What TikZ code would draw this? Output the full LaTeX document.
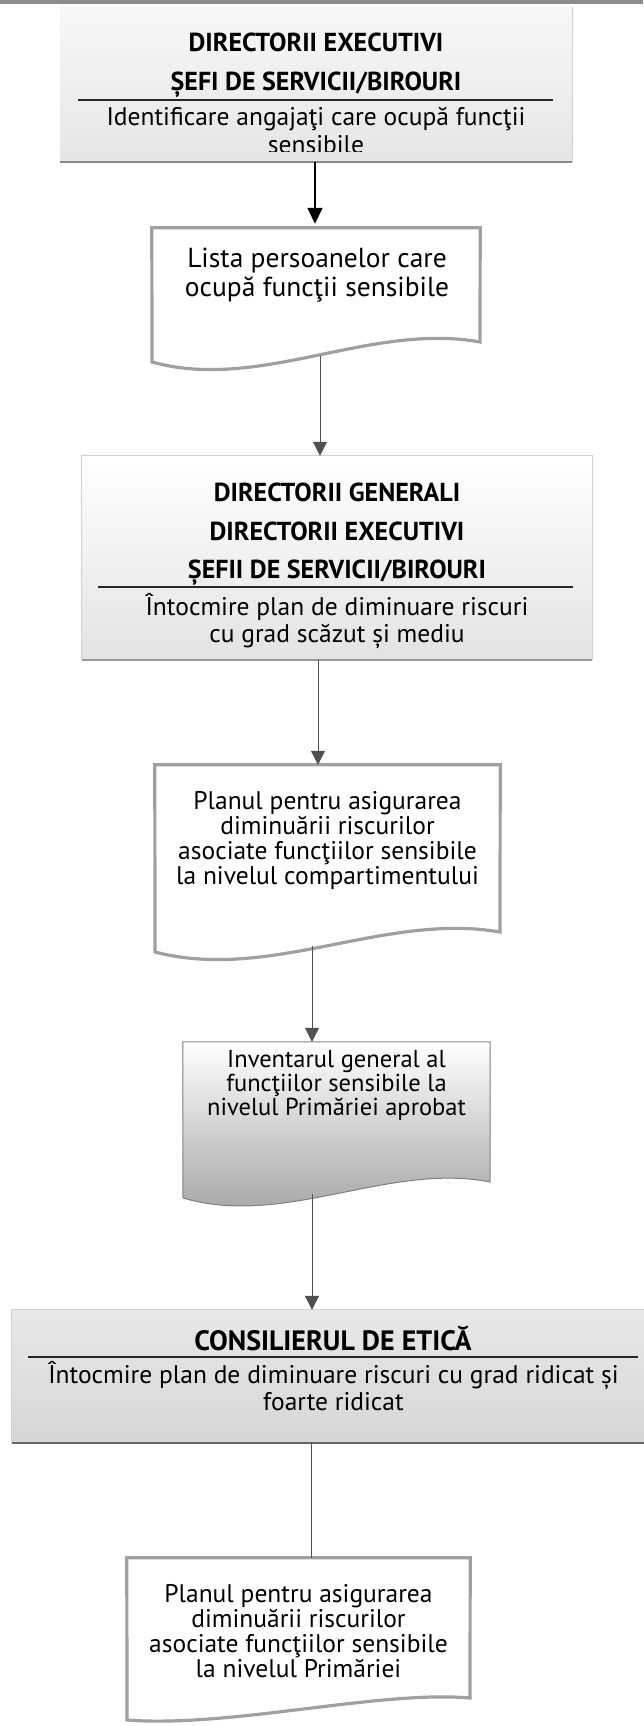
\documentclass[tikz,border=0pt]{standalone}
\usepackage{fontspec}
\setmainfont{PT Sans}
\usetikzlibrary{arrows.meta}
\definecolor{band}{HTML}{8C8C8C}
\definecolor{docgray}{HTML}{A0A0A0}
\definecolor{shadowgray}{HTML}{8A8A8A}
\definecolor{edgegray}{HTML}{D0D0D0}
\definecolor{arrowgray}{HTML}{505050}
\newcommand\mysetfs[2]{\fontsize{#1}{#2}\selectfont}
\tikzset{
  area/.style={draw=none,inner sep=0pt},
  bodytxt/.style={align=center,inner sep=0pt},
  titletxt/.style={align=center,inner sep=0pt},
  docline/.style={draw=docgray,line width=3.2pt,line join=miter},
  rulerline/.style={draw=black!85,line width=1.3pt},
  shadowline/.style={draw=shadowgray,line width=2pt},
  boldarrow/.style={draw=black,line width=1.6pt,-{Triangle[width=15pt,length=16pt]}},
  thinarrow/.style={draw=arrowgray,line width=1pt,-{Triangle[width=14pt,length=14pt]}},
  plainline/.style={draw=arrowgray,line width=1pt}
}
\begin{document}
\begin{tikzpicture}[x=1pt,y=-1pt]
\useasboundingbox (0,0) rectangle (643,1726);
\fill[white] (0,0) rectangle (643,1726);
\fill[band] (0,0) rectangle (643,4);

% ---------- box 1
\node[area,minimum width=512pt,minimum height=155pt] (b1) at (316,84.5) {};
\shade[top color=black!3,bottom color=black!10] (b1.north west) rectangle (b1.south east);
\draw[edgegray,line width=0.8pt] (b1.north east) -- (b1.south east);
\draw[shadowline] (b1.south west) -- (b1.south east);
\node[titletxt,font=\mysetfs{26pt}{39pt}\bfseries] (t1a) at (316,65) {DIRECTORII EXECUTIVI\\ȘEFI DE SERVICII/BIROURI};
\draw[rulerline] (78,100) -- (553,100);
\begin{scope}
\clip (60,7) rectangle (572,151);
\node[bodytxt,font=\mysetfs{25.5pt}{28pt}] (t1b) at (316,130.5) {Identificare angajaţi care ocupă funcţii\\sensibile};
\end{scope}

% ---------- box 2 (document)
\node[area,minimum width=328pt,minimum height=128pt] (b2) at (316,292) {};
\draw[docline,fill=white] (152,362) -- (b2.north west) -- (b2.north east) -- (480,342)
  .. controls (370,322) and (260,392) .. (152,362) -- cycle;
\node[bodytxt,font=\mysetfs{27.5pt}{28.5pt}] (t2) at (317,275) {Lista persoanelor care\\ocupă funcţii sensibile};

% ---------- box 3
\node[area,minimum width=510pt,minimum height=204pt] (b3) at (337,558) {};
\shade[top color=white,bottom color=black!11] (b3.north west) rectangle (b3.south east);
\draw[edgegray,line width=0.8pt] (b3.south west) -- (b3.north west) -- (b3.north east) -- (b3.south east);
\draw[draw=black!40,line width=1.6pt] (b3.south west) -- (b3.south east);
\node[titletxt,font=\mysetfs{26pt}{38.5pt}\bfseries] (t3a) at (337,534.5) {DIRECTORII GENERALI\\DIRECTORII EXECUTIVI\\ȘEFII DE SERVICII/BIROURI};
\draw[rulerline] (98,587) -- (573,587);
\node[bodytxt,font=\mysetfs{25.5pt}{26.5pt}] (t3b) at (337,621) {Întocmire plan de diminuare riscuri\\cu grad scăzut și mediu};

% ---------- box 4 (document)
\node[area,minimum width=345pt,minimum height=181pt] (b4) at (327.5,855.5) {};
\draw[docline,fill=white] (155,952) -- (b4.north west) -- (b4.north east) -- (500,932)
  .. controls (385,912) and (270,982) .. (155,952) -- cycle;
\node[bodytxt,font=\mysetfs{25.5pt}{25pt}] (t4) at (327.5,840.5) {Planul pentru asigurarea\\diminuării riscurilor\\asociate funcţiilor sensibile\\la nivelul compartimentului};

% ---------- box 5 (document, shaded)
\node[area,minimum width=307pt,minimum height=152pt] (b5) at (336.5,1118) {};
\shade[top color=white,middle color=white,bottom color=black!38]
  (183,1198) -- (b5.north west) -- (b5.north east) -- (490,1182)
  .. controls (388,1162) and (285,1228) .. (183,1198) -- cycle;
\draw[draw=black!50,line width=1pt]
  (183,1198) -- (b5.north west) -- (b5.north east) -- (490,1182)
  .. controls (388,1162) and (285,1228) .. (183,1198) -- cycle;
\node[bodytxt,font=\mysetfs{24.5pt}{24pt}] (t5) at (336.5,1085) {Inventarul general al\\funcţiilor sensibile la\\nivelul Primăriei aprobat};

% ---------- box 6
\node[area,minimum width=643pt,minimum height=133pt] (b6) at (333.5,1376.5) {};
\shade[top color=black!9,bottom color=black!16] (b6.north west) rectangle (b6.south east);
\draw[edgegray,line width=0.8pt] (b6.south west) -- (b6.north west) -- (b6.north east);
\draw[draw=black!60,line width=2pt] (b6.south west) -- (b6.south east);
\node[titletxt,font=\mysetfs{28pt}{30pt}\bfseries] (t6a) at (333,1338) {CONSILIERUL DE ETICĂ};
\draw[rulerline] (28,1357) -- (638,1357);
\node[bodytxt,font=\mysetfs{25.5pt}{27pt}] (t6b) at (333.5,1386) {Întocmire plan de diminuare riscuri cu grad ridicat și\\foarte ridicat};

% ---------- box 7 (document)
\node[area,minimum width=343pt,minimum height=151pt] (b7) at (298.5,1633.5) {};
\draw[docline,fill=white] (127,1720) -- (b7.north west) -- (b7.north east) -- (470,1698)
  .. controls (380,1690) and (230,1728) .. (127,1720) -- cycle;
\node[bodytxt,font=\mysetfs{25.5pt}{25pt}] (t7) at (298.5,1631) {Planul pentru asigurarea\\diminuării riscurilor\\asociate funcţiilor sensibile\\la nivelul Primăriei};

% ---------- connectors
\draw[boldarrow,shorten >=4pt] ([xshift=-1pt]b1.south) -- ([xshift=-1pt]b2.north);
\draw[thinarrow] ([xshift=4pt]b2.south) -- ([xshift=-17pt]b3.north);
\draw[thinarrow] ([xshift=-19pt]b3.south) -- ([xshift=-9.5pt]b4.north);
\draw[thinarrow] ([xshift=-15.5pt]b4.south) -- ([xshift=-24.5pt]b5.north);
\draw[thinarrow] ([xshift=-24.5pt]b5.south) -- ([xshift=-21.5pt]b6.north);
\draw[plainline] ([xshift=-22.5pt]b6.south) -- ([xshift=12.5pt]b7.north);
\end{tikzpicture}
\end{document}
